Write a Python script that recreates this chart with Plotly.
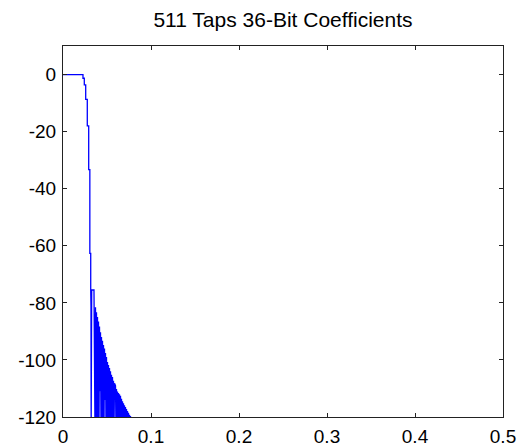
import plotly.graph_objects as go

# ---- data ----
# passband + transition band (frequency, magnitude dB)
trans_f = [0.0, 0.0227, 0.0227, 0.0242, 0.0242, 0.0258, 0.0258, 0.0276, 0.0276,
           0.0292, 0.0292, 0.0305, 0.0305, 0.0315, 0.0315, 0.0318, 0.0320,
           0.0326, 0.0352, 0.0356]
trans_db = [0.0, 0.0, -1.3, -1.3, -3.6, -3.6, -8.7, -8.7, -18.0,
            -18.0, -33.3, -33.3, -62.7, -62.7, -75.7, -81.0, -125.0,
            -75.5, -75.5, -125.0]

# stopband side-lobe peaks
peak_f = [0.03580, 0.03693, 0.03807, 0.03920, 0.04034, 0.04148, 0.04261, 0.04375,
          0.04489, 0.04602, 0.04716, 0.04830, 0.04943, 0.05057, 0.05170, 0.05284,
          0.05398, 0.05511, 0.05625, 0.05739, 0.05852, 0.05966, 0.06080, 0.06193,
          0.06307, 0.06420, 0.06534, 0.06648, 0.06761, 0.06875, 0.06989, 0.07102,
          0.07216, 0.07330, 0.07443, 0.07557, 0.07670]
peak_db = [-80.5, -81.5, -83.3, -85.0, -86.5, -88.3, -90.3, -92.0,
           -93.3, -94.8, -96.0, -97.6, -99.0, -100.7, -101.8, -102.8,
           -104.0, -105.2, -106.0, -107.3, -108.2, -109.0, -110.2, -111.1,
           -111.6, -112.0, -112.6, -113.6, -114.5, -115.2, -115.9, -116.5,
           -117.2, -117.9, -118.5, -119.2, -119.7]

# stopband nulls following each peak
null_f = [0.03636, 0.03750, 0.03864, 0.03977, 0.04091, 0.04205, 0.04318, 0.04432,
          0.04545, 0.04659, 0.04773, 0.04886, 0.05000, 0.05114, 0.05227, 0.05341,
          0.05455, 0.05568, 0.05682, 0.05795, 0.05909, 0.06023, 0.06136, 0.06250,
          0.06364, 0.06477, 0.06591, 0.06705, 0.06818, 0.06932, 0.07045, 0.07159,
          0.07273, 0.07386, 0.07500, 0.07614, 0.07727]
null_db = [-125, -125, -125, -125, -125, -111, -125, -125,
           -125, -125, -114, -125, -125, -125, -125, -125,
           -125, -125, -125, -125, -109, -125, -125, -125,
           -125, -125, -125, -125, -125, -125, -125, -125,
           -125, -125, -125, -125, -125]

x_ticks = [0, 0.1, 0.2, 0.3, 0.4, 0.5]
x_labels = ["0", "0.1", "0.2", "0.3", "0.4", "0.5"]
y_ticks = [0, -20, -40, -60, -80, -100, -120]
y_labels = ["0", "-20", "-40", "-60", "-80", "-100", "-120"]

title = "511 Taps 36-Bit Coefficients"

# ---- build the response curve ----
xs = list(trans_f)
ys = list(trans_db)
for pf, pd, nf, nd in zip(peak_f, peak_db, null_f, null_db):
    xs += [pf, nf]
    ys += [pd, nd]

fig = go.Figure()
fig.add_trace(go.Scatter(x=xs, y=ys, mode="lines",
                         line=dict(color="#0000ff", width=1.3),
                         hoverinfo="skip", showlegend=False))

font = "Liberation Sans, Arial, Helvetica, sans-serif"
axis_common = dict(showgrid=False, zeroline=False, showline=True,
                   linecolor="#222222", linewidth=1, mirror="ticks",
                   ticks="inside", ticklen=4, tickcolor="#222222",
                   automargin=False,
                   tickfont=dict(family=font, size=19, color="black"))

fig.update_layout(
    width=520, height=446,
    margin=dict(l=63, r=17, t=46, b=29, pad=0, autoexpand=False),
    paper_bgcolor="white", plot_bgcolor="white",
    title=dict(text=title, x=0.5, xref="paper", xanchor="center",
               y=1 - 20 / 446, yref="container", yanchor="middle",
               automargin=False,
               font=dict(family=font, size=21, color="black")),
    xaxis=dict(range=[0, 0.5], tickvals=x_ticks, ticktext=x_labels,
               ticklabelstandoff=2, **axis_common),
    yaxis=dict(range=[-120, 10], tickvals=y_ticks, ticktext=y_labels,
               ticklabelstandoff=2, **axis_common),
)

fig.write_html("out.html")
